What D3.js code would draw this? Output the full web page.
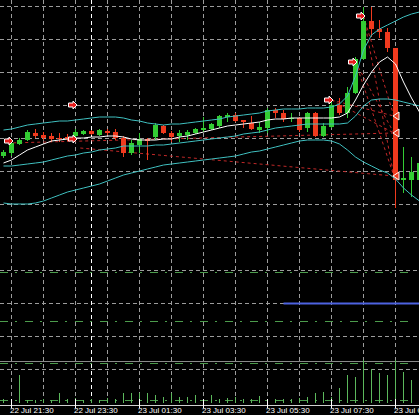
<!DOCTYPE html>
<html><head><meta charset="utf-8">
<script src="https://cdn.jsdelivr.net/npm/d3@7"></script>
<style>html,body{margin:0;padding:0;background:#000;overflow:hidden}svg{display:block}</style>
</head><body>
<svg id="chart" width="419" height="415"></svg>
<script>
// ---- data (EURUSD-like M15 bars, 22 Jul 21:15 .. 23 Jul 10:15) ----
const firstBar = "2023-07-22 21:15";
const barCount = 53;
const opens  = [1.12844,1.12847,1.12856,1.12860,1.12867,1.12865,1.12864,1.12862,1.12863,1.12864,1.12866,1.12869,1.12865,1.12869,1.12868,1.12862,1.12847,1.12855,1.12861,1.12863,1.12874,1.12867,1.12864,1.12865,1.12867,1.12870,1.12871,1.12874,1.12883,1.12885,1.12880,1.12877,1.12870,1.12872,1.12890,1.12887,1.12881,1.12882,1.12872,1.12887,1.12864,1.12873,1.12895,1.12887,1.12907,1.12941,1.12979,1.12971,1.12968,1.12952,1.12820,1.12820,1.12820];
const highs  = [1.12850,1.12860,1.12862,1.12870,1.12871,1.12868,1.12867,1.12867,1.12866,1.12871,1.12870,1.12870,1.12871,1.12871,1.12871,1.12864,1.12860,1.12867,1.12862,1.12877,1.12875,1.12869,1.12870,1.12870,1.12872,1.12883,1.12877,1.12885,1.12887,1.12887,1.12880,1.12884,1.12878,1.12892,1.12892,1.12890,1.12887,1.12883,1.12888,1.12888,1.12877,1.12900,1.12902,1.12913,1.12943,1.12993,1.12993,1.12980,1.12972,1.12952,1.12853,1.12843,1.12840];
const lows   = [1.12842,1.12844,1.12855,1.12859,1.12862,1.12860,1.12858,1.12858,1.12859,1.12863,1.12865,1.12865,1.12864,1.12865,1.12860,1.12843,1.12845,1.12847,1.12840,1.12860,1.12866,1.12858,1.12858,1.12860,1.12866,1.12868,1.12870,1.12872,1.12878,1.12878,1.12872,1.12870,1.12867,1.12867,1.12882,1.12878,1.12878,1.12868,1.12868,1.12863,1.12863,1.12872,1.12885,1.12882,1.12906,1.12940,1.12963,1.12962,1.12948,1.12792,1.12807,1.12803,1.12815];
const closes = [1.12848,1.12857,1.12860,1.12868,1.12864,1.12862,1.12861,1.12861,1.12861,1.12868,1.12869,1.12866,1.12870,1.12867,1.12862,1.12847,1.12857,1.12861,1.12859,1.12875,1.12867,1.12863,1.12867,1.12868,1.12871,1.12872,1.12876,1.12884,1.12885,1.12879,1.12878,1.12871,1.12873,1.12890,1.12887,1.12881,1.12882,1.12870,1.12887,1.12864,1.12874,1.12895,1.12887,1.12907,1.12941,1.12979,1.12971,1.12968,1.12952,1.12820,1.12822,1.12828,1.12837];
const volumes = [100,100,700,75,75,100,75,250,100,125,75,100,75,125,100,250,250,250,250,200,150,250,150,150,200,100,200,100,125,150,100,100,175,100,100,100,100,125,150,250,275,150,375,700,650,1075,850,750,700,1075,775,575,450];
const bandUpper  = [1.12870,1.12871,1.12873,1.12875,1.12876,1.12877,1.12878,1.12879,1.12879,1.12880,1.12881,1.12882,1.12883,1.12883,1.12883,1.12882,1.12880,1.12879,1.12877,1.12876,1.12875,1.12876,1.12876,1.12877,1.12878,1.12879,1.12880,1.12881,1.12883,1.12884,1.12885,1.12886,1.12887,1.12889,1.12890,1.12891,1.12891,1.12891,1.12892,1.12892,1.12892,1.12893,1.12896,1.12904,1.12924,1.12950,1.12965,1.12971,1.12975,1.12979,1.12983,1.12986,1.12988];
const bandMiddle = [1.12834,1.12834,1.12835,1.12836,1.12837,1.12838,1.12840,1.12842,1.12844,1.12845,1.12847,1.12848,1.12850,1.12851,1.12852,1.12854,1.12854,1.12854,1.12854,1.12855,1.12855,1.12856,1.12857,1.12858,1.12859,1.12860,1.12861,1.12862,1.12863,1.12864,1.12866,1.12867,1.12868,1.12870,1.12872,1.12873,1.12874,1.12875,1.12876,1.12876,1.12876,1.12876,1.12876,1.12877,1.12884,1.12894,1.12900,1.12901,1.12901,1.12900,1.12898,1.12896,1.12894];
const bandLower  = [1.12797,1.12796,1.12796,1.12796,1.12797,1.12799,1.12802,1.12805,1.12808,1.12810,1.12812,1.12814,1.12816,1.12819,1.12822,1.12825,1.12827,1.12829,1.12831,1.12833,1.12835,1.12836,1.12837,1.12838,1.12839,1.12840,1.12841,1.12842,1.12843,1.12844,1.12846,1.12848,1.12849,1.12851,1.12853,1.12855,1.12857,1.12859,1.12860,1.12860,1.12860,1.12859,1.12856,1.12850,1.12843,1.12838,1.12834,1.12830,1.12827,1.12821,1.12812,1.12805,1.12799];
const maLine     = [1.12837,1.12840,1.12845,1.12850,1.12853,1.12856,1.12859,1.12860,1.12861,1.12862,1.12862,1.12863,1.12863,1.12864,1.12864,1.12863,1.12861,1.12860,1.12860,1.12860,1.12861,1.12861,1.12863,1.12864,1.12866,1.12868,1.12870,1.12872,1.12874,1.12875,1.12876,1.12877,1.12878,1.12880,1.12881,1.12881,1.12882,1.12882,1.12882,1.12882,1.12882,1.12882,1.12883,1.12887,1.12900,1.12915,1.12928,1.12938,1.12943,1.12936,1.12918,1.12902,1.12888];
// sell signal arrows: bar index, price
const sellBars   = [1, 9, 9, 41, 44, 45];
const sellPrices = [1.12859, 1.12895, 1.12861, 1.12900, 1.12938, 1.12984];
// exit marks on bar index 49
const exitBars   = [49, 49, 49];
const exitPrices = [1.12884, 1.12867, 1.12824];
// trade connector lines: from bar/price to bar/price
const tradeFromBar   = [0.5, 9.6, 41, 41, 44, 44, 45, 45];
const tradeFromPrice = [1.12857, 1.12852, 1.12900, 1.12900, 1.12938, 1.12938, 1.12984, 1.12984];
const tradeToBar     = [48.8, 48.8, 48.8, 48.8, 48.8, 48.8, 48.8, 48.8];
const tradeToPrice   = [1.12867, 1.12824, 1.12884, 1.12867, 1.12867, 1.12824, 1.12884, 1.12824];
// horizontal level lines
const levelPrices = [1.12728, 1.12679, 1.12637, 1.12600];
const greyLevel = 1.12639;
const rayStart = "2023-07-23 06:00";
const rayPrice = 1.126965;
const xTickLabels = ["22 Jul 21:30","22 Jul 23:30","23 Jul 01:30","23 Jul 03:30","23 Jul 05:30","23 Jul 07:30","23 Jul 09:30"];
const daySeparator = "2023-07-23 00:00";
const firstGridHour = "2023-07-22 21:30";

// ---- drawing ----
const W = 419, H = 415;
const parse = d3.timeParse("%Y-%m-%d %H:%M");
const parseLabel = s => d3.timeParse("%Y %d %b %H:%M")("2023 " + s);
const t0 = parse(firstBar);
const times = d3.range(barCount).map(i => d3.timeMinute.offset(t0, 15 * i));
const bars = times.map((t, i) => ({t, o: opens[i], h: highs[i], l: lows[i], c: closes[i], v: volumes[i]}));

const x = d3.scaleTime().domain([times[0], times[barCount - 1]]).range([3.5, 419.5]);
const y = d3.scaleLinear().domain([1.12595, 1.13000]).range([405, 0]);
const yv = d3.scaleLinear().domain([0, 1075]).range([403, 360]);
const xi = i => x(d3.timeMinute.offset(t0, 15 * i));
const px = v => Math.floor(v) + 0.5;

const svg = d3.select("#chart");
svg.append("rect").attr("width", W).attr("height", H).attr("fill", "#000");

const grid = svg.append("g").attr("stroke", "#9c9c9c").attr("stroke-dasharray", "4,3").attr("shape-rendering", "crispEdges");
const hGrid = d3.range(12).map(k => 1.12994 - 0.00033 * k);
grid.selectAll("line.h").data(hGrid).join("line").attr("class", "h")
  .attr("x1", 0).attr("x2", W).attr("y1", d => Math.round(y(d)) + 0.5).attr("y2", d => Math.round(y(d)) + 0.5);
const g0 = parse(firstGridHour);
const vGrid = d3.range(13).map(h => d3.timeMinute.offset(g0, 60 * h));
grid.selectAll("line.v").data(vGrid).join("line").attr("class", "v")
  .attr("y1", 0).attr("y2", 405).attr("x1", d => px(x(d))).attr("x2", d => px(x(d)));
svg.append("line").attr("stroke", "#ffffff").attr("stroke-dasharray", "4,3").attr("shape-rendering", "crispEdges")
  .attr("x1", px(x(parse(daySeparator)))).attr("x2", px(x(parse(daySeparator))))
  .attr("y1", 0).attr("y2", 405);

// level lines
svg.append("line").attr("x1", 0).attr("x2", W).attr("y1", Math.round(y(greyLevel)) + 0.5).attr("y2", Math.round(y(greyLevel)) + 0.5)
  .attr("stroke", "#8a8a8a").attr("shape-rendering", "crispEdges");
svg.append("g").selectAll("line").data(levelPrices).join("line")
  .attr("x1", 0).attr("x2", 412).attr("y1", d => Math.round(y(d)) + 0.5).attr("y2", d => Math.round(y(d)) + 0.5)
  .attr("stroke", "#4c9c4c").attr("stroke-dasharray", "8,7,2,8").attr("shape-rendering", "crispEdges");
svg.append("line").attr("x1", x(parse(rayStart))).attr("x2", W)
  .attr("y1", y(rayPrice)).attr("y2", y(rayPrice)).attr("stroke", "#4d62e0").attr("stroke-width", 2);

// volumes
svg.append("g").selectAll("line").data(bars).join("line")
  .attr("x1", d => px(x(d.t))).attr("x2", d => px(x(d.t)))
  .attr("y1", yv(0)).attr("y2", d => yv(d.v))
  .attr("stroke", "#5cb85c").attr("shape-rendering", "crispEdges");

// trade connector lines
svg.append("g").selectAll("line").data(tradeFromBar).join("line")
  .attr("x1", d => xi(d)).attr("y1", (d, i) => y(tradeFromPrice[i]))
  .attr("x2", (d, i) => xi(tradeToBar[i])).attr("y2", (d, i) => y(tradeToPrice[i]))
  .attr("stroke", "#c02828").attr("stroke-dasharray", "3,3");

// candles
const bull = "#33cc33", bear = "#f03a1e";
const cg = svg.append("g").attr("shape-rendering", "crispEdges");
cg.selectAll("line").data(bars).join("line")
  .attr("x1", d => px(x(d.t))).attr("x2", d => px(x(d.t)))
  .attr("y1", d => y(d.h)).attr("y2", d => y(d.l))
  .attr("stroke", d => d.c >= d.o ? bull : bear);
cg.selectAll("rect").data(bars).join("rect")
  .attr("x", d => Math.floor(x(d.t)) - 2).attr("width", 5)
  .attr("y", d => y(Math.max(d.o, d.c)))
  .attr("height", d => Math.max(1, Math.abs(y(d.o) - y(d.c))))
  .attr("fill", d => d.c >= d.o ? bull : bear);

// indicator lines
const lineGen = arr => d3.line().x((d, i) => x(times[i])).y(d => y(d))(arr);
[bandUpper, bandMiddle, bandLower].forEach(a =>
  svg.append("path").attr("d", lineGen(a)).attr("fill", "none").attr("stroke", "#3fbfbf").attr("stroke-width", 1));
svg.append("path").attr("d", lineGen(maLine)).attr("fill", "none").attr("stroke", "#ffffff").attr("stroke-width", 1);

// sell arrows (pointing right, tip just right of the bar)
svg.append("g").selectAll("path").data(sellBars).join("path")
  .attr("transform", (d, i) => `translate(${xi(d) + 1.5},${y(sellPrices[i])})`)
  .attr("d", "M0,0 L-4,-4 L-4,-2 L-8.5,-2 L-8.5,2 L-4,2 L-4,4 Z")
  .attr("fill", "#e81c1c").attr("stroke", "#ffffff").attr("stroke-width", 1);
// exit triangles (pointing left)
svg.append("g").selectAll("path").data(exitBars).join("path")
  .attr("transform", (d, i) => `translate(${xi(d) - 2.5},${y(exitPrices[i])})`)
  .attr("d", "M0,0 L6,-4 L6,4 Z")
  .attr("fill", "#f03a1e").attr("stroke", "#ffffff").attr("stroke-width", 1);

// x axis
svg.append("line").attr("x1", 0).attr("x2", W).attr("y1", 405.5).attr("y2", 405.5).attr("stroke", "#d0d0d0");
const ax = svg.append("g");
ax.selectAll("line").data(xTickLabels).join("line")
  .attr("x1", d => px(x(parseLabel(d)))).attr("x2", d => px(x(parseLabel(d))))
  .attr("y1", 399).attr("y2", 408).attr("stroke", "#ffffff").attr("shape-rendering", "crispEdges");
ax.selectAll("text").data(xTickLabels).join("text")
  .attr("x", d => x(parseLabel(d)) - 1.5).attr("y", 413)
  .attr("fill", "#ffffff").attr("font-family", "Liberation Sans, Arial, sans-serif").attr("font-size", "8px")
  .text(d => d);
</script>
</body></html>
